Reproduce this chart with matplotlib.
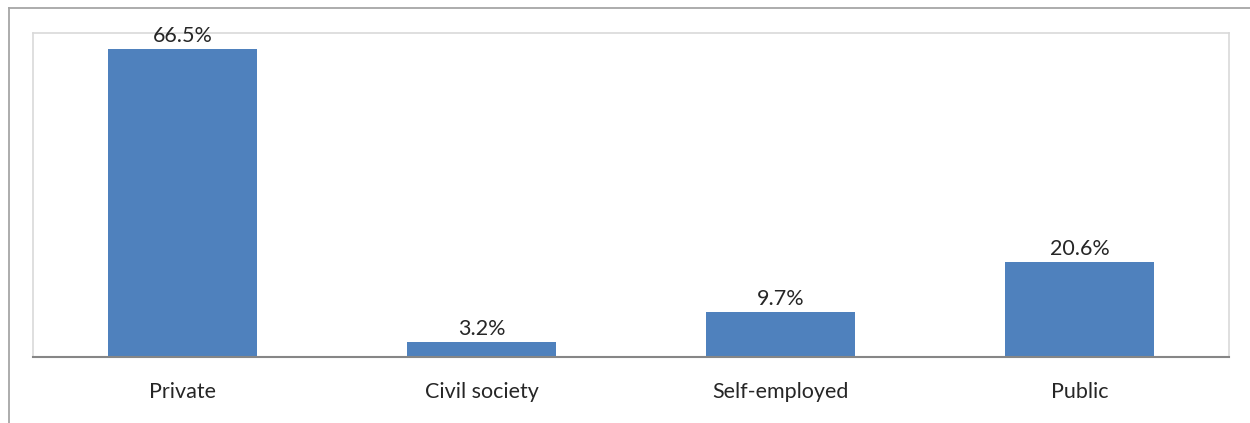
import matplotlib.pyplot as plt
from matplotlib.lines import Line2D

categories = ["Private", "Civil society", "Self-employed", "Public"]
shares = [66.5, 3.2, 9.7, 20.6]
labels = ["66.5%", "3.2%", "9.7%", "20.6%"]

plt.rcParams['font.family'] = ['Lato', 'DejaVu Sans']

fig = plt.figure(figsize=(12.5, 4.23), dpi=100)
ax = fig.add_axes([33 / 1250, 66 / 423, 1196 / 1250, 324 / 423])

x = range(len(categories))
bars = ax.bar(x, shares, width=0.5, color='#4f81bd', zorder=2)
for b, lab in zip(bars, labels):
    ax.annotate(lab, (b.get_x() + b.get_width() / 2, b.get_height()),
                xytext=(0, 2), textcoords='offset points',
                ha='center', va='bottom', fontsize=15.5, color='#262626')

ax.set_xlim(-0.5, len(categories) - 0.5)
ax.set_ylim(0, 70)
ax.set_yticks([])
ax.set_xticks(list(x))
ax.set_xticklabels(categories, fontsize=15.5, color='#262626')
ax.tick_params(axis='x', length=0, pad=18)

for side in ['top', 'left', 'right']:
    ax.spines[side].set_color('#d9d9d9')
    ax.spines[side].set_linewidth(1.2)
ax.spines['bottom'].set_color('#868686')
ax.spines['bottom'].set_linewidth(1.5)

# outer chart frame
fig.add_artist(Line2D([8.5 / 1250, 8.5 / 1250], [0, 415 / 423], color='#a6a6a6', lw=1.3))
fig.add_artist(Line2D([8.5 / 1250, 1], [415 / 423, 415 / 423], color='#a6a6a6', lw=1.3))

fig.savefig('out.png', dpi=100)
